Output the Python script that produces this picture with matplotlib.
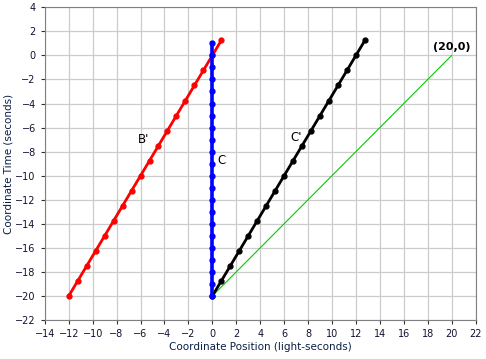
import numpy as np
import matplotlib
matplotlib.use("Agg")
import matplotlib.pyplot as plt

# worldline of B' (moving at 0.6c), events every 1 s proper time
b_x = [-12.0, -11.25, -10.5, -9.75, -9.0, -8.25, -7.5, -6.75, -6.0,
       -5.25, -4.5, -3.75, -3.0, -2.25, -1.5, -0.75, 0.0, 0.75]
b_t = [-20.0, -18.75, -17.5, -16.25, -15.0, -13.75, -12.5, -11.25, -10.0,
       -8.75, -7.5, -6.25, -5.0, -3.75, -2.5, -1.25, 0.0, 1.25]

# worldline of C (at rest)
c_x = [0.0] * 22
c_t = [-20, -19, -18, -17, -16, -15, -14, -13, -12, -11, -10,
       -9, -8, -7, -6, -5, -4, -3, -2, -1, 0, 1]

# worldline of C'
cp_x = [0.0, 0.75, 1.5, 2.25, 3.0, 3.75, 4.5, 5.25, 6.0,
        6.75, 7.5, 8.25, 9.0, 9.75, 10.5, 11.25, 12.0, 12.75]
cp_t = b_t

# light signal
light_x = [0, 20]
light_t = [-20, 0]

fig = plt.figure(figsize=(4.86, 3.59), dpi=100)
ax = fig.add_axes([0.0922, 0.1086, 0.8864, 0.8711])

ax.plot(light_x, light_t, color="#00cc00", linewidth=0.8, zorder=2)
ax.plot(b_x, b_t, color="#ff0000", linewidth=2.0, marker="o", markersize=3.5, zorder=3)
ax.plot(cp_x, cp_t, color="black", linewidth=2.0, marker="o", markersize=3.5, zorder=3)
ax.plot(c_x, c_t, color="#0000ff", linewidth=2.6, marker="o", markersize=3.5, zorder=4)

ax.text(-5.3, -7.0, "B'", fontsize=8.5, ha="right", va="center", color="black")
ax.text(0.45, -8.75, "C", fontsize=8.5, ha="left", va="center", color="black")
ax.text(6.5, -6.8, "C'", fontsize=8.5, ha="left", va="center", color="black")
ax.text(20, 0.7, "(20,0)", fontsize=8, ha="center", va="center", color="black",
        fontweight="bold")

ax.set_xlim(-14, 22)
ax.set_ylim(-22, 4)
ax.set_xticks(np.arange(-14, 23, 2))
ax.set_yticks(np.arange(-22, 5, 2))
ax.grid(True, color="#cccccc", linewidth=0.9)
ax.set_axisbelow(True)
for s in ax.spines.values():
    s.set_color("#808080")
ax.tick_params(labelsize=7, length=3, color="#333333", labelcolor="#111133")
ax.set_xlabel("Coordinate Position (light-seconds)", fontsize=7.5, color="#0a1e46", labelpad=2)
ax.set_ylabel("Coordinate Time (seconds)", fontsize=7.5, color="#0a1e46", labelpad=1)

fig.savefig("out.png", dpi=100)
